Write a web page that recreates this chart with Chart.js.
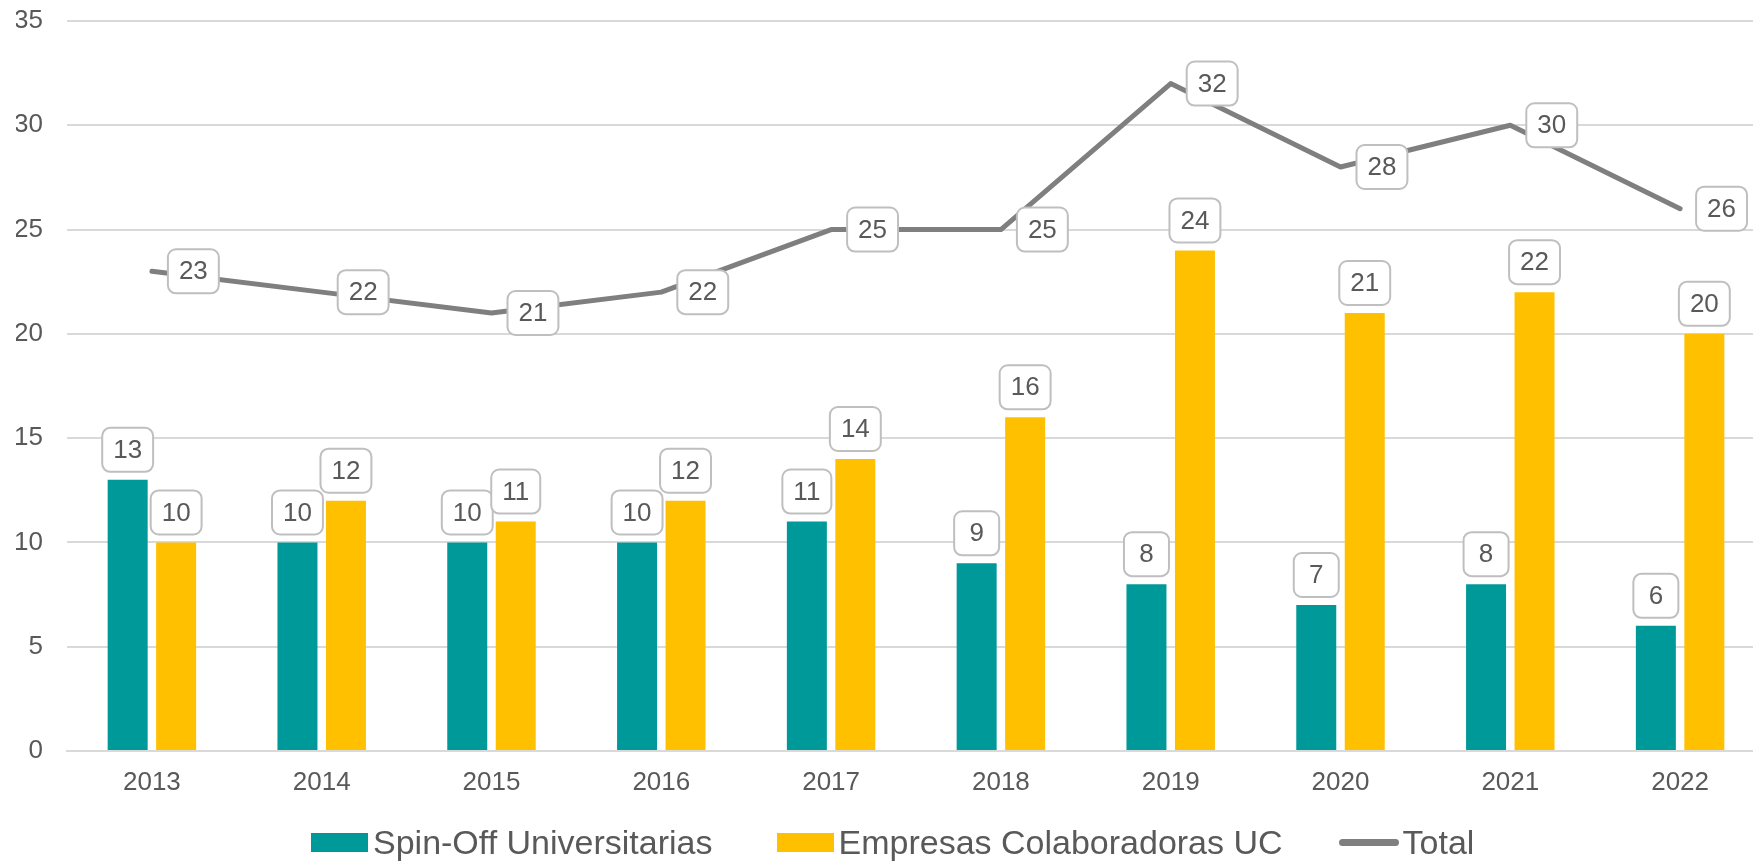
<!DOCTYPE html>
<html>
<head>
<meta charset="utf-8">
<script src="https://cdn.jsdelivr.net/npm/chart.js@4.4.0/dist/chart.umd.min.js"></script>
<style>
  html, body { margin: 0; background: #fff; overflow: hidden; font-family: "Liberation Sans", Arial, sans-serif; }
  /* el área del gráfico sigue un poco más allá del borde derecho, como en el original */
  #wrap { position: relative; width: 1765px; height: 861px; }
  #leyenda { position: absolute; left: 311px; top: 822px; height: 40px; display: flex; align-items: center; font-size: 34px; color: #595959; white-space: nowrap; }
  #leyenda .item { display: flex; align-items: center; }
  #leyenda .caja { width: 57px; height: 19px; margin-right: 5px; }
  #leyenda .linea { width: 60px; height: 7px; border-radius: 4px; background: #7f7f7f; margin-right: 4px; }
</style>
</head>
<body>
<div id="wrap">
  <canvas id="graficoEmpresas"></canvas>
  <div id="leyenda">
    <div class="item" style="margin-right:64px"><span class="caja" style="background:#009999"></span>Spin-Off Universitarias</div>
    <div class="item" style="margin-right:56px"><span class="caja" style="background:#ffc000"></span>Empresas Colaboradoras UC</div>
    <div class="item"><span class="linea"></span>Total</div>
  </div>
</div>
<script>
// Datos del gráfico
const anios = ['2013', '2014', '2015', '2016', '2017', '2018', '2019', '2020', '2021', '2022'];
const spinOff = [13, 10, 10, 10, 11, 9, 8, 7, 8, 6];
const colaboradoras = [10, 12, 11, 12, 14, 16, 24, 21, 22, 20];
const total = [23, 22, 21, 22, 25, 25, 32, 28, 30, 26];

const fuente = '"Liberation Sans", Arial, sans-serif';

// Etiquetas de datos con recuadro (estilo Excel)
const etiquetas = {
    id: 'etiquetas',
    afterDatasetsDraw(chart) {
        const ctx = chart.ctx;
        ctx.save();
        ctx.font = '26px ' + fuente;
        ctx.textAlign = 'center';
        ctx.textBaseline = 'middle';
        chart.data.datasets.forEach((ds, i) => {
            const meta = chart.getDatasetMeta(i);
            meta.data.forEach((el, j) => {
                const txt = String(ds.data[j]);
                const w = Math.max(ctx.measureText(txt).width + 22, 45);
                const h = 44;
                let x, y;
                if (ds.type === 'line') {
                    x = el.x + 16;
                    y = el.y - h / 2;
                } else {
                    x = el.x - w / 2;
                    y = el.y - 8 - h;
                }
                ctx.beginPath();
                ctx.roundRect(x, y, w, h, 8);
                ctx.fillStyle = '#ffffff';
                ctx.fill();
                ctx.lineWidth = 2;
                ctx.strokeStyle = '#bfbfbf';
                ctx.stroke();
                ctx.fillStyle = '#595959';
                ctx.fillText(txt, x + w / 2, y + h / 2 + 1);
            });
        });
        ctx.restore();
    }
};

const ctx = document.getElementById('graficoEmpresas').getContext('2d');
const grafico = new Chart(ctx, {
    type: 'bar',
    data: {
        labels: anios,
        datasets: [{
            label: 'Spin-Off Universitarias',
            data: spinOff,
            backgroundColor: '#009999',
            categoryPercentage: 0.571,
            barPercentage: 0.825,
            order: 2
        }, {
            label: 'Empresas Colaboradoras UC',
            data: colaboradoras,
            backgroundColor: '#ffc000',
            categoryPercentage: 0.571,
            barPercentage: 0.825,
            order: 2
        }, {
            type: 'line',
            label: 'Total',
            data: total,
            borderColor: '#7f7f7f',
            backgroundColor: '#7f7f7f',
            borderWidth: 5,
            borderCapStyle: 'round',
            borderJoinStyle: 'round',
            pointRadius: 0,
            tension: 0,
            fill: false,
            order: 1
        }]
    },
    options: {
        responsive: true,
        maintainAspectRatio: false,
        animation: false,
        layout: {
            padding: { top: 21, left: 16, right: 0, bottom: 63 }
        },
        plugins: {
            legend: { display: false },
            tooltip: { enabled: false }
        },
        scales: {
            x: {
                grid: { display: false, drawTicks: false },
                border: { display: true, color: '#d9d9d9', width: 2 },
                ticks: { color: '#595959', font: { family: fuente, size: 26 }, padding: 16 },
                afterFit(scale) {
                    scale.height = 47;
                    scale.paddingLeft = 0;
                    scale.paddingRight = 0;
                }
            },
            y: {
                min: 0,
                max: 35,
                grid: { color: '#d9d9d9', lineWidth: 2, drawTicks: false },
                border: { display: false },
                ticks: { stepSize: 5, color: '#595959', font: { family: fuente, size: 26 }, padding: 24 },
                afterFit(scale) {
                    scale.width = 51;
                    scale.paddingTop = 0;
                    scale.paddingBottom = 0;
                }
            }
        }
    },
    plugins: [etiquetas]
});
</script>
</body>
</html>
